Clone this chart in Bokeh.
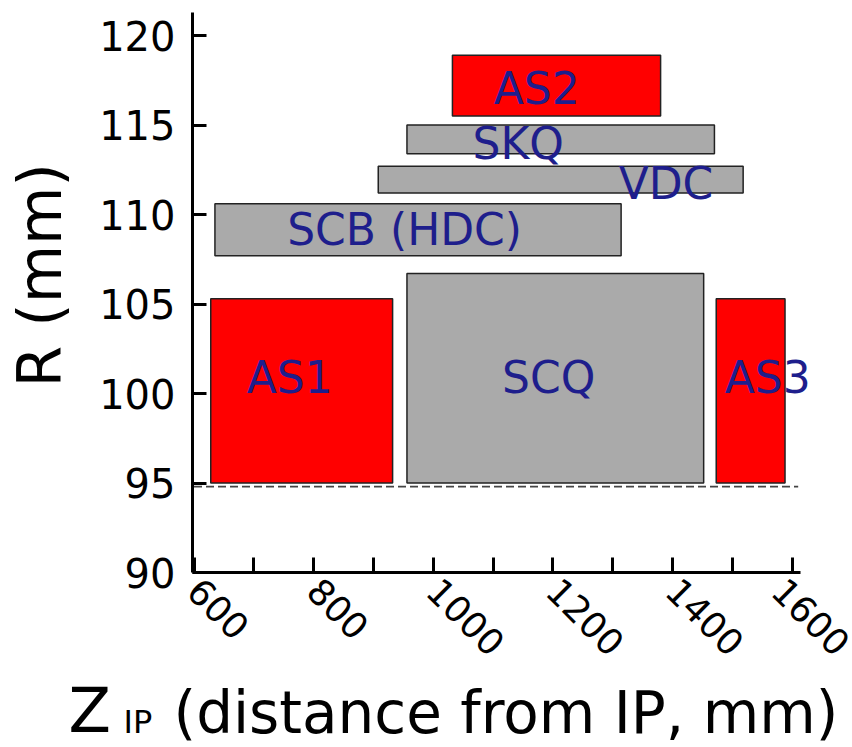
import math
from bokeh.plotting import figure
from bokeh.models import Range1d, FixedTicker, ColumnDataSource
from bokeh.core.properties import value
from bokeh.embed import file_html
from bokeh.resources import INLINE

# ---- data ----
names = ["AS1", "SCQ", "AS3", "SCB (HDC)", "VDC", "SKQ", "AS2"]
z_start = [628, 956, 1473, 635, 908, 956, 1032]
z_end = [932, 1452, 1588, 1314, 1518, 1470, 1380]
r_inner = [95.0, 95.0, 95.0, 107.7, 111.2, 113.4, 115.5]
r_outer = [105.3, 106.7, 105.3, 110.6, 112.7, 115.0, 118.9]
kinds = ["AS", "SC", "AS", "SC", "SC", "SC", "AS"]
label_z = [760, 1193, 1559, 952, 1389, 1142, 1173]
label_r = [100.9, 100.9, 100.9, 109.15, 111.75, 113.95, 117.05]
pipe_z = [600, 1610]
pipe_r = [94.8, 94.8]
x_major = [600, 800, 1000, 1200, 1400, 1600]
x_minor = [700, 900, 1100, 1300, 1500]
y_major = [90, 95, 100, 105, 110, 115, 120]
x_axis_title = ["Z", "IP", "(distance from IP, mm)"]
y_axis_title = "R (mm)"

FONT = "DejaVu Sans"
colors = {"AS": "#ff0000", "SC": "#aaaaaa"}

# axis extents (the drawn axes) and the full canvas extents
X_AX = (597.5, 1614.0)
Y_AX = (90.0, 121.28)
PX_X = 0.5982   # px per mm
PX_Y = 17.9     # px per mm
X0 = 600 - 193.5 / PX_X
Y1 = 90 + 572 / PX_Y

src = ColumnDataSource(dict(
    left=z_start, right=z_end, bottom=r_inner, top=r_outer,
    color=[colors[k] for k in kinds], name=names,
    lx=label_z, ly=label_r,
))

p = figure(width=852, height=747, output_backend="svg", toolbar_location=None,
           x_range=Range1d(X0, X0 + 852 / PX_X),
           y_range=Range1d(Y1 - 747 / PX_Y, Y1))
p.min_border = 0
p.outline_line_color = None
p.xgrid.visible = False
p.ygrid.visible = False
p.background_fill_color = "white"
p.border_fill_color = "white"

p.quad(left="left", right="right", bottom="bottom", top="top", source=src,
       fill_color="color", line_color="#222222", line_width=1.5)
p.line(pipe_z, pipe_r, line_dash="8 4", line_color="#444444", line_width=1.8)
p.text(x="lx", y="ly", text="name", source=src, text_align="center",
       text_baseline="middle", text_font=value(FONT), text_font_size="44px",
       text_color="#1e1e8c")

xa = p.xaxis[0]
xa.fixed_location = Y_AX[0]
xa.bounds = X_AX
xa.ticker = FixedTicker(ticks=x_major, minor_ticks=x_minor)
xa.major_label_orientation = -math.pi / 4
xa.major_label_text_font = FONT
xa.major_label_text_font_size = "36px"
xa.major_label_text_color = "black"
xa.major_label_standoff = 12
xa.axis_line_width = 3
xa.major_tick_line_width = 3
xa.minor_tick_line_width = 3
xa.major_tick_in = 15
xa.major_tick_out = 0
xa.minor_tick_in = 15
xa.minor_tick_out = 0

ya = p.yaxis[0]
ya.fixed_location = X_AX[0]
ya.bounds = Y_AX
ya.ticker = FixedTicker(ticks=y_major)
ya.major_label_text_font = FONT
ya.major_label_text_font_size = "40px"
ya.major_label_text_color = "black"
ya.major_label_standoff = 17
ya.axis_line_width = 3
ya.major_tick_line_width = 3
ya.major_tick_in = 14
ya.major_tick_out = 0
ya.minor_tick_line_color = None

# axis titles (drawn as text in the full-canvas frame)
def cx(px):
    return X0 + px / PX_X

def cy(py):
    return Y1 - py / PX_Y

p.text(x=[cx(39)], y=[cy(387)], text=[y_axis_title], angle=math.pi / 2,
       text_align="left", text_baseline="alphabetic",
       text_font=value(FONT), text_font_size="60px", text_color="black")
p.text(x=[cx(68)], y=[cy(710)], text=[x_axis_title[0]], text_align="left",
       text_baseline="alphabetic", text_font=value(FONT), text_font_size="62px",
       text_color="black")
p.text(x=[cx(123)], y=[cy(721)], text=[x_axis_title[1]], text_align="left",
       text_baseline="alphabetic", text_font=value(FONT), text_font_size="32px",
       text_color="black")
p.text(x=[cx(173)], y=[cy(712)], text=[x_axis_title[2]], text_align="left",
       text_baseline="alphabetic", text_font=value(FONT), text_font_size="58px",
       text_color="black")

open("out.html", "w").write(file_html(p, INLINE))
